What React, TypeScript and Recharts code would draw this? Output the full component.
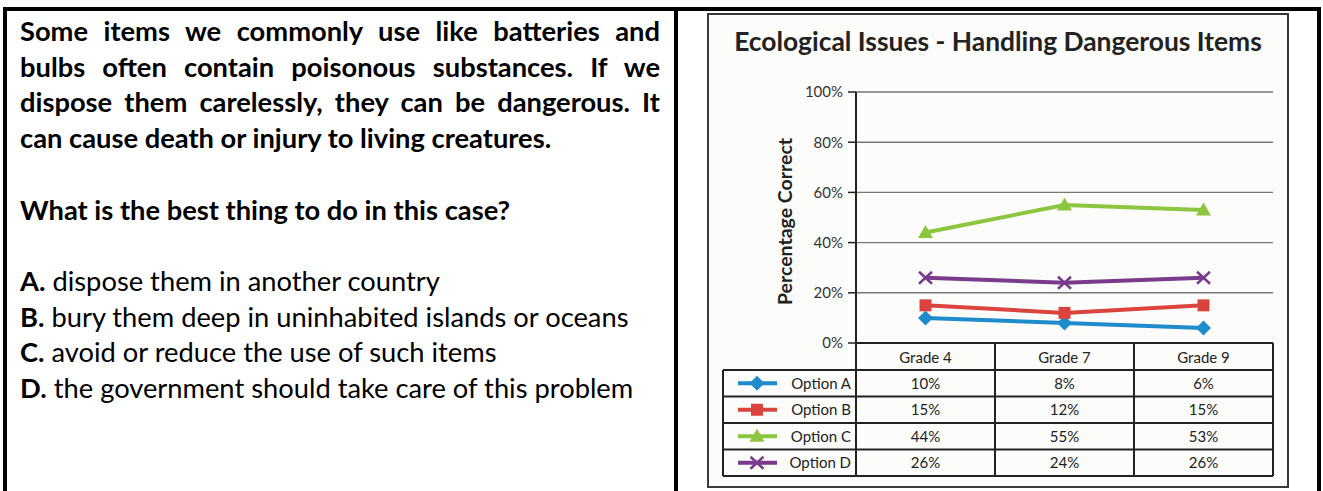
import { LineChart, Line, XAxis, YAxis, CartesianGrid } from "recharts";

const grades = ["Grade 4", "Grade 7", "Grade 9"];
const optionA = [10, 8, 6];
const optionB = [15, 12, 15];
const optionC = [44, 55, 53];
const optionD = [26, 24, 26];
const yTicks = [0, 20, 40, 60, 80, 100];

const series = [
  { key: "a", name: "Option A", values: optionA, color: "#1e8bcb", marker: "diamond" },
  { key: "b", name: "Option B", values: optionB, color: "#d9443f", marker: "square" },
  { key: "c", name: "Option C", values: optionC, color: "#8cc63f", marker: "triangle" },
  { key: "d", name: "Option D", values: optionD, color: "#7a3b8d", marker: "cross" },
];

const data = grades.map((grade, i) => ({
  grade,
  a: optionA[i],
  b: optionB[i],
  c: optionC[i],
  d: optionD[i],
}));

const paragraph = [
  "Some items we commonly use like batteries and",
  "bulbs often contain poisonous substances. If we",
  "dispose them carelessly, they can be dangerous. It",
  "can cause death or injury to living creatures.",
];
const question = "What is the best thing to do in this case?";
const answers = [
  ["A.", "dispose them in another country"],
  ["B.", "bury them deep in uninhabited islands or oceans"],
  ["C.", "avoid or reduce the use of such items"],
  ["D.", "the government should take care of this problem"],
];

// chart geometry (svg coords)
const W = 582;
const H = 475;
const PLOT_LEFT = 149;
const PLOT_RIGHT = 566;
const PLOT_TOP = 79;
const PLOT_BOTTOM = 330;
const COL_W = (PLOT_RIGHT - PLOT_LEFT) / grades.length;
const TABLE_LEFT = 16;
const HEADER_BOTTOM = 357;
const ROW_H = 26.5;
const TABLE_BOTTOM = HEADER_BOTTOM + ROW_H * series.length;
const LINE_CLR = "#222";

function Marker({ kind, cx, cy, color }: any) {
  if (kind === "diamond")
    return (
      <polygon
        points={`${cx},${cy - 7.5} ${cx + 7.5},${cy} ${cx},${cy + 7.5} ${cx - 7.5},${cy}`}
        fill={color}
      />
    );
  if (kind === "square")
    return <rect x={cx - 6} y={cy - 6} width={12} height={12} fill={color} />;
  if (kind === "triangle")
    return (
      <polygon
        points={`${cx},${cy - 7.5} ${cx + 7.5},${cy + 5.5} ${cx - 7.5},${cy + 5.5}`}
        fill={color}
      />
    );
  return (
    <g stroke={color} strokeWidth={2.5}>
      <line x1={cx - 6.5} y1={cy - 6} x2={cx + 6.5} y2={cy + 6} />
      <line x1={cx - 6.5} y1={cy + 6} x2={cx + 6.5} y2={cy - 6} />
    </g>
  );
}

function TableColumn(props: any) {
  const { x, payload } = props;
  const i = props.index ?? payload.index;
  const right = x + COL_W / 2;
  return (
    <g fontSize={15} fill={LINE_CLR}>
      <line x1={right} y1={PLOT_BOTTOM} x2={right} y2={TABLE_BOTTOM} stroke={LINE_CLR} strokeWidth={2} />
      <text x={x} y={(PLOT_BOTTOM + HEADER_BOTTOM) / 2 + 6} textAnchor="middle" fill={LINE_CLR}>
        {payload.value}
      </text>
      {series.map((s, r) => (
        <text
          key={s.key}
          x={x}
          y={HEADER_BOTTOM + ROW_H * r + ROW_H / 2 + 5.5}
          textAnchor="middle"
          fill={LINE_CLR}
        >
          {s.values[i]}%
        </text>
      ))}
      {i === 0 && (
        <g>
          <line x1={PLOT_LEFT} y1={PLOT_BOTTOM} x2={PLOT_LEFT} y2={TABLE_BOTTOM} stroke={LINE_CLR} strokeWidth={2} />
          <line x1={TABLE_LEFT} y1={HEADER_BOTTOM} x2={TABLE_LEFT} y2={TABLE_BOTTOM} stroke={LINE_CLR} strokeWidth={2} />
          {series.map((s, r) => (
            <line
              key={s.key}
              x1={TABLE_LEFT}
              y1={HEADER_BOTTOM + ROW_H * r}
              x2={PLOT_RIGHT}
              y2={HEADER_BOTTOM + ROW_H * r}
              stroke={LINE_CLR}
              strokeWidth={2}
            />
          ))}
          <line x1={TABLE_LEFT} y1={TABLE_BOTTOM} x2={PLOT_RIGHT} y2={TABLE_BOTTOM} stroke={LINE_CLR} strokeWidth={2} />
          {series.map((s, r) => {
            const cy = HEADER_BOTTOM + ROW_H * r + ROW_H / 2;
            return (
              <g key={s.key}>
                <line x1={31} y1={cy} x2={70} y2={cy} stroke={s.color} strokeWidth={4} />
                <Marker kind={s.marker} cx={50} cy={cy} color={s.color} />
                <text x={144} y={cy + 5.5} textAnchor="end" fill={LINE_CLR}>
                  {s.name}
                </text>
              </g>
            );
          })}
        </g>
      )}
    </g>
  );
}

function YLabel(props: any) {
  const vb = props.viewBox;
  const cx = vb.x + 77;
  const cy = vb.y + vb.height / 2 + 4;
  return (
    <text
      x={cx}
      y={cy}
      transform={`rotate(-90, ${cx}, ${cy})`}
      textAnchor="middle"
      dominantBaseline="central"
      fontSize={19.5}
      fontWeight={700}
      fill="#222"
    >
      Percentage Correct
    </text>
  );
}

export default function App() {
  return (
    <div
      style={{
        position: "absolute",
        left: 0,
        top: 0,
        width: 1323,
        height: 491,
        overflow: "hidden",
        background: "#fff",
      }}
    >
      <div
        style={{
          position: "absolute",
          left: 3,
          top: 7,
          width: 1318,
          height: 540,
          border: "4px solid #000",
          boxSizing: "border-box",
        }}
      />
      <div style={{ position: "absolute", left: 674, top: 7, width: 4, height: 540, background: "#000" }} />

      <div
        style={{
          position: "absolute",
          left: 20,
          top: 13,
          width: 640,
          fontFamily: "Lato, 'Open Sans', sans-serif",
          fontSize: 27.3,
          lineHeight: "35.7px",
          color: "#000",
        }}
      >
        {paragraph.map((line, i) => (
          <div
            key={i}
            style={{
              fontWeight: 700,
              textAlign: i < paragraph.length - 1 ? "justify" : "left",
              textAlignLast: i < paragraph.length - 1 ? "justify" : "left",
              whiteSpace: "nowrap",
            }}
          >
            {line}
          </div>
        ))}
        <div>&nbsp;</div>
        <div style={{ fontWeight: 700 }}>{question}</div>
        <div>&nbsp;</div>
        {answers.map(([letter, text]) => (
          <div key={letter} style={{ whiteSpace: "nowrap" }}>
            <b>{letter}</b> {text}
          </div>
        ))}
      </div>

      <div
        style={{
          position: "absolute",
          left: 707,
          top: 13,
          width: W,
          height: H,
          border: "2px solid #3a3a3a",
          boxSizing: "border-box",
          background: "#fcfcfa",
          fontFamily: "Lato, sans-serif",
        }}
      >
        <div
          style={{
            position: "absolute",
            left: 0,
            top: 11,
            width: W - 4,
            textAlign: "center",
            fontSize: 26.4,
            fontWeight: 700,
            lineHeight: "30px",
            color: "#222",
          }}
        >
          Ecological Issues - Handling Dangerous Items
        </div>
        <div style={{ position: "absolute", left: -2, top: -2 }}>
          <LineChart width={W} height={H} data={data} margin={{ top: PLOT_TOP, right: W - PLOT_RIGHT, bottom: 0, left: 0 }}>
            <CartesianGrid vertical={false} stroke="#777" strokeWidth={1.4} />
            <XAxis
              dataKey="grade"
              height={H - PLOT_BOTTOM}
              padding={{ left: COL_W / 2, right: COL_W / 2 }}
              axisLine={{ stroke: LINE_CLR, strokeWidth: 2 }}
              tickLine={false}
              interval={0}
              tick={<TableColumn />}
            />
            <YAxis
              width={PLOT_LEFT}
              domain={[0, 100]}
              ticks={yTicks}
              tickFormatter={(v: number) => `${v}%`}
              tickSize={8}
              tickMargin={5}
              tick={{ fontSize: 15, fill: "#333" }}
              tickLine={{ stroke: LINE_CLR, strokeWidth: 1.5 }}
              axisLine={{ stroke: LINE_CLR, strokeWidth: 2 }}
              label={{ content: (p: any) => <YLabel {...p} /> }}
            />
            {series.map((s) => (
              <Line
                key={s.key}
                dataKey={s.key}
                name={s.name}
                stroke={s.color}
                strokeWidth={4}
                isAnimationActive={false}
                activeDot={false}
                dot={(p: any) => <Marker key={`${s.key}-${p.index}`} kind={s.marker} cx={p.cx} cy={p.cy} color={s.color} />}
              />
            ))}
          </LineChart>
        </div>
      </div>
    </div>
  );
}
